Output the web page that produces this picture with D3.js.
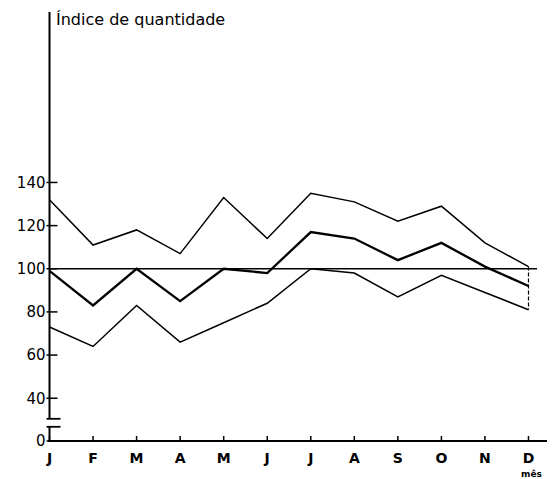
<!DOCTYPE html>
<html>
<head>
<meta charset="utf-8">
<script src="https://cdn.jsdelivr.net/npm/d3@7"></script>
<style>
  body { margin: 0; background: #fff; }
  svg { display: block; font-family: 'DejaVu Sans', sans-serif; }
</style>
</head>
<body>
<svg width="559" height="479"></svg>
<script>
  const months = ['J', 'F', 'M', 'A', 'M', 'J', 'J', 'A', 'S', 'O', 'N', 'D'];
  const upper = [132, 111, 118, 107, 133, 114, 135, 131, 122, 129, 112, 101];
  const middle = [99, 83, 100, 85, 100, 98, 117, 114, 104, 112, 101, 92];
  const lower = [73, 64, 83, 66, 75, 84, 100, 98, 87, 97, 89, 81];
  const yTicks = [0, 40, 60, 80, 100, 120, 140];

  const svg = d3.select('svg');

  // x: month index, y: broken axis (0..30 squeezed)
  const xScale = d3.scaleLinear().domain([0, 11]).range([49.5, 528.5]);
  const yScale = d3.scaleLinear().domain([0, 30, 219]).range([441, 419.8, 12]);

  // reference line at 100
  svg.append('line')
    .attr('x1', 49).attr('x2', 537)
    .attr('y1', yScale(100)).attr('y2', yScale(100))
    .attr('stroke', '#000').attr('stroke-width', 1.6);

  // dashed drop at December
  svg.append('line')
    .attr('x1', xScale(11)).attr('x2', xScale(11))
    .attr('y1', yScale(upper[11])).attr('y2', yScale(lower[11]))
    .attr('stroke', '#000').attr('stroke-width', 1.2)
    .attr('stroke-dasharray', '4,2');

  const line = d3.line()
    .x((d, i) => xScale(i))
    .y(d => yScale(d));

  const series = [
    { values: upper, width: 1.5 },
    { values: middle, width: 2.3 },
    { values: lower, width: 1.5 }
  ];

  svg.selectAll('.series').data(series)
    .enter().append('path')
    .attr('class', 'series')
    .attr('d', d => line(d.values))
    .attr('fill', 'none')
    .attr('stroke', '#000')
    .attr('stroke-width', d => d.width)
    .attr('stroke-linejoin', 'miter');

  // y axis (with break between 0 and 40)
  const axisX = 49.5;
  svg.append('line')
    .attr('x1', axisX).attr('x2', axisX)
    .attr('y1', 12).attr('y2', yScale(30) - 1)
    .attr('stroke', '#000').attr('stroke-width', 2);
  svg.append('line')
    .attr('x1', axisX).attr('x2', axisX)
    .attr('y1', yScale(30) + 7).attr('y2', 442)
    .attr('stroke', '#000').attr('stroke-width', 2);
  [yScale(30) - 1, yScale(30) + 7].forEach(y => {
    svg.append('line')
      .attr('x1', axisX - 3).attr('x2', axisX + 11)
      .attr('y1', y).attr('y2', y)
      .attr('stroke', '#000').attr('stroke-width', 1.8);
  });

  const yTickG = svg.selectAll('.ytick').data(yTicks)
    .enter().append('g')
    .attr('class', 'ytick')
    .attr('transform', d => `translate(0,${yScale(d)})`);
  yTickG.append('line')
    .attr('x1', axisX - 3).attr('x2', axisX + 8)
    .attr('stroke', '#000').attr('stroke-width', 1.5);
  yTickG.append('text')
    .attr('x', axisX - 4)
    .attr('dy', '0.36em')
    .attr('text-anchor', 'end')
    .attr('font-size', 15)
    .text(d => d);

  // x axis
  svg.append('line')
    .attr('x1', 48).attr('x2', 547)
    .attr('y1', 441).attr('y2', 441)
    .attr('stroke', '#000').attr('stroke-width', 2.2);

  const xTickG = svg.selectAll('.xtick').data(months)
    .enter().append('g')
    .attr('class', 'xtick')
    .attr('transform', (d, i) => `translate(${xScale(i)},441)`);
  xTickG.append('line')
    .attr('y1', 0).attr('y2', -5)
    .attr('stroke', '#000').attr('stroke-width', 1.5);
  xTickG.append('text')
    .attr('y', 22)
    .attr('text-anchor', 'middle')
    .attr('font-size', 14)
    .attr('font-weight', 'bold')
    .text(d => d);

  svg.append('text')
    .attr('x', xScale(11) + 3).attr('y', 477)
    .attr('text-anchor', 'middle')
    .attr('font-size', 9)
    .attr('font-weight', 'bold')
    .text('mês');

  svg.append('text')
    .attr('x', 56).attr('y', 25)
    .attr('font-size', 16)
    .text('Índice de quantidade');
</script>
</body>
</html>
